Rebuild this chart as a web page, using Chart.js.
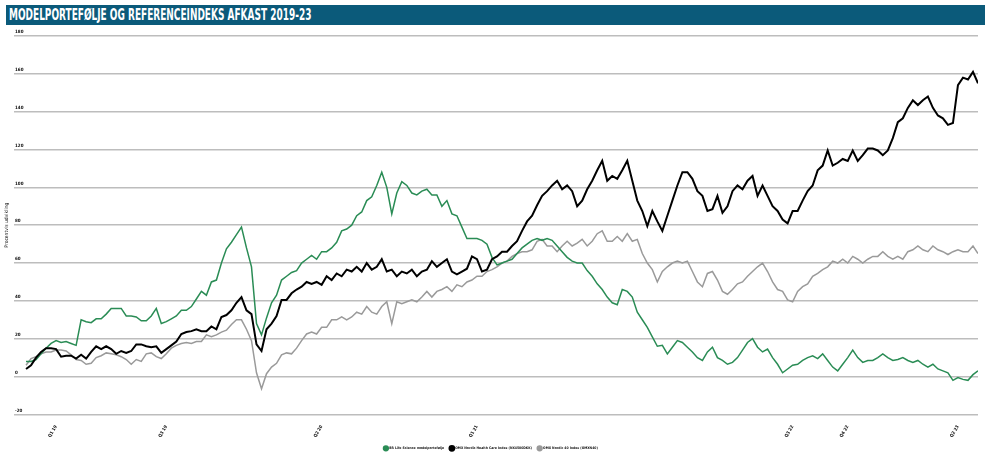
<!DOCTYPE html>
<html>
<head>
<meta charset="utf-8">
<script src="https://cdn.jsdelivr.net/npm/chart.js@4"></script>
<style>
  body { margin: 0; background: #fff; }
  #titel {
    position: absolute; left: 6px; top: 5px; width: 979px; height: 20px;
    background: #0b5a7a;
  }
  #titel span {
    position: absolute; left: 3px; top: 0; color: #fff;
    font: bold 15px "DejaVu Sans Condensed", sans-serif;
    line-height: 21px; white-space: nowrap;
    transform: scaleX(0.665); transform-origin: 0 0;
  }
  #boks { position: absolute; left: 0; top: 28px; width: 985px; height: 434px; }
</style>
</head>
<body>
<div id="titel"><span>MODELPORTEFØLJE OG REFERENCEINDEKS AFKAST 2019-23</span></div>
<div id="boks"><canvas id="myChart"></canvas></div>
<script>
  // aflæst fra billedet, et punkt pr. ~5 px
  const groen = [
    8, 8, 9, 12, 15, 17.5, 19, 18, 18.5, 17.5,
    16.5, 30, 29, 28.5, 30.5, 30.5, 33, 36, 36, 36,
    32, 32, 31.5, 29.5, 29.5, 32, 36, 28, 29, 30.5,
    32, 35, 35, 37, 41, 45, 43, 50, 51, 60,
    67.5, 71, 75, 79, 68, 58, 28, 22, 31, 39,
    43, 51, 53, 55, 56, 60, 62, 64, 62, 66,
    66, 68, 71, 77, 78, 80, 85, 87, 93, 95,
    101, 108, 100, 86, 97, 103, 101, 97, 96, 98,
    99, 96, 96, 90, 93, 86, 85, 79, 73, 73,
    73, 72, 70, 63, 59, 60, 61, 62, 65, 68,
    70, 72, 73, 72, 73, 72, 69, 66, 63, 61,
    60, 60, 56, 53, 49, 46, 42, 39, 38, 46,
    45, 42, 34, 30, 26, 21, 16, 16.5, 12, 15.5,
    19, 18, 15.5, 13, 10, 8.5, 13, 15.5, 10, 8.5,
    6.5, 7.5, 10, 14, 18, 20, 15.5, 13, 14.5, 10,
    6.5, 2, 4, 6, 6.5, 8.5, 10, 11, 9.5, 12,
    8.5, 5, 3, 6.5, 10, 14, 10, 7.5, 8.5, 8.5,
    10, 12, 10, 8.5, 9, 10, 8.5, 7.5, 8.5, 6.5,
    5, 6.5, 4, 3, 2, -2, -0.5, -1.5, -2, 1,
    3
  ];
  const sort = [
    4, 6, 10, 13, 15, 15, 14.5, 10.5, 11, 11,
    9.5, 11.5, 9.5, 13, 16, 14.5, 16, 14.5, 12, 13.5,
    12.5, 13.5, 17, 17, 16, 15.5, 16, 12.5, 14.5, 16.5,
    18.5, 22.5, 23.5, 24, 25, 24, 24, 26.5, 25, 31.5,
    32.5, 35, 39, 42, 35, 33, 17, 13.5, 25, 28,
    32, 40.5, 40.5, 44, 46, 47.5, 50, 49, 50, 48.5,
    53, 51, 54.5, 53, 56.5, 55.5, 58, 55.5, 60, 56.5,
    58, 62, 55.5, 56.5, 53, 55.5, 54.5, 56.5, 53, 55.5,
    56.5, 61, 58, 60, 62, 55.5, 54, 55.5, 57, 63.5,
    62, 55.5, 56.5, 62, 63.5, 66, 66, 69, 71.5, 77,
    82, 85, 90.5, 95.5, 98, 101, 103.5, 99, 101, 98,
    90, 93, 99, 103.5, 109, 114, 103.5, 106, 104.5, 109,
    114, 103.5, 93, 87.5, 79.5, 87.5, 82, 77, 85, 93,
    101, 108, 108, 104.5, 98, 95.5, 87.5, 88.5, 95.5, 86.5,
    90, 98, 101, 99, 103.5, 106, 95.5, 101, 95.5, 90,
    87.5, 83, 81, 87.5, 87.5, 93, 98, 101, 109, 111.5,
    119.5, 111.5, 113, 115, 114, 119.5, 114, 117, 120.5, 120.5,
    119.5, 117, 119.5, 126, 134.5, 136.5, 142, 146, 143.5, 146,
    148, 142, 138, 136.5, 133, 134, 154, 158, 157, 161,
    155
  ];
  const graa = [
    6, 9.5, 10.5, 12, 13, 13, 14, 14, 13.5, 11.5,
    9, 8.5, 6.5, 7, 10, 11, 12.5, 12, 11.5, 10.5,
    9, 6.5, 9, 8, 12, 12.5, 10.5, 9.5, 12, 15,
    16.5, 17.5, 18, 17.5, 18.5, 18.5, 22, 21, 22, 23.5,
    24.5, 27.5, 30, 30, 25, 19, 2, -6.5, 1.5, 5,
    7, 11.5, 12.5, 12, 15, 19, 22.5, 23.5, 22.5, 26,
    26, 30, 30, 31.5, 30, 31.5, 34, 33, 37, 34,
    33, 37, 39.5, 28, 39.5, 38.5, 39.5, 40.5, 39.5, 42,
    45, 42, 45, 46, 47.5, 45, 48.5, 47.5, 50, 51,
    53, 53, 55.5, 56.5, 58, 60, 61, 63.5, 65, 66,
    66, 67, 71.5, 72.5, 69, 69, 66, 69, 71.5, 69,
    70.5, 72.5, 69, 71.5, 75.5, 77, 71.5, 71.5, 74, 71.5,
    75.5, 71.5, 72.5, 65, 60, 56.5, 50, 55.5, 58, 60,
    61, 60, 61, 55.5, 50, 47.5, 54.5, 55.5, 51, 45,
    43.5, 46, 49, 50, 53, 55.5, 58, 60, 55.5, 50,
    46, 45, 40.5, 39.5, 45, 47.5, 49, 53, 54.5, 56.5,
    58, 61, 60, 62, 60, 63.5, 62, 60, 62, 63.5,
    63.5, 66, 63.5, 62, 63.5, 62, 66, 67, 69, 67,
    66, 69, 67, 66, 64.5, 66, 67, 66, 66, 69,
    65
  ];
  const serier = ['BR Life Science modelportefølje', 'OMX Nordic Health Care Index (NX4500DKK)', 'OMX Nordic 40 Index (OMXN40)'];
  const farver = ['#2a8c55', '#000000', '#9a9a9a'];
  const kvartalIdx = [6, 28, 59, 90, 153, 164, 186];
  const kvartaler = ['Q1 19', 'Q3 19', 'Q2 20', 'Q1 21', 'Q3 22', 'Q4 22', 'Q2 23'];
  const yTicks = [-20, 0, 20, 40, 60, 80, 100, 120, 140, 160, 180];

  const lilleFont = { family: '"DejaVu Sans Condensed", sans-serif', size: 4.5, weight: 'bold' };

  const data = [groen, sort, graa];
  const chartData = {
    datasets: data.map((vaerdier, i) => ({
      label: serier[i],
      data: vaerdier.map((v, j) => ({ x: j, y: v })),
      borderColor: farver[i],
      backgroundColor: farver[i],
      borderWidth: i == 1 ? 2 : 1.5,
      pointRadius: 0,
      tension: 0,
      order: i == 1 ? 0 : (i == 0 ? 1 : 2)
    }))
  };

  const config = {
    type: 'line',
    data: chartData,
    options: {
      responsive: true,
      maintainAspectRatio: false,
      animation: false,
      layout: { padding: { left: 4, right: 7, top: 8, bottom: 2 } },
      plugins: {
        tooltip: { enabled: false },
        legend: {
          position: 'bottom',
          labels: {
            usePointStyle: true, pointStyle: 'circle',
            boxWidth: 6, boxHeight: 6, padding: 6,
            sort: (a, b) => a.datasetIndex - b.datasetIndex,
            color: '#111', font: { family: lilleFont.family, size: 3.4, weight: 'bold' }
          }
        }
      },
      scales: {
        x: {
          type: 'linear', min: -2.4, max: 190,
          grid: { display: false }, border: { display: false },
          afterBuildTicks: s => { s.ticks = kvartalIdx.map(v => ({ value: v })); },
          ticks: {
            autoSkip: false, minRotation: 60, maxRotation: 60, padding: 2,
            color: '#111', font: lilleFont,
            callback: v => kvartaler[kvartalIdx.indexOf(v)]
          }
        },
        y: {
          min: -20, max: 180,
          afterBuildTicks: s => { s.ticks = yTicks.map(v => ({ value: v })); },
          grid: { color: '#bdbdbd', lineWidth: 1.5, drawTicks: false },
          border: { display: false },
          ticks: { mirror: true, padding: 1, labelOffset: -4, color: '#111', font: lilleFont },
          title: {
            display: true, text: 'Procentvis udvikling', color: '#111',
            font: { family: lilleFont.family, size: 5 }, padding: { top: 0, bottom: 2 }
          }
        }
      }
    }
  };

  const ctx = document.getElementById('myChart');
  const myChart = new Chart(ctx, config);
</script>
</body>
</html>
